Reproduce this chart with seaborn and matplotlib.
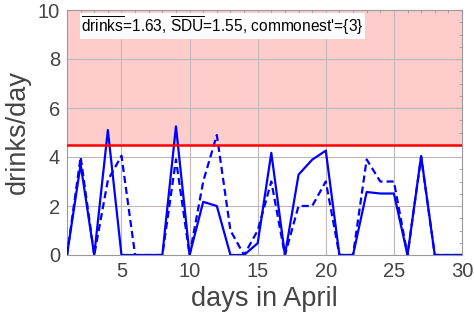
import numpy as np
import pandas as pd
import matplotlib
matplotlib.use("Agg")
import matplotlib.pyplot as plt
import seaborn as sns
from matplotlib.ticker import MultipleLocator

days = list(range(1, 31))
drinks = [0, 3.7, 0, 5.1, 0, 0, 0, 0, 5.25, 0, 2.17, 2.0, 0, 0, 0.48,
          4.17, 0, 3.28, 3.89, 4.26, 0, 0, 2.57, 2.51, 2.51, 0, 4.04, 0, 0, 0]
sdu = [0, 4.0, 0, 3.05, 4.05, 0, 0, 0, 3.9, 0, 3.0, 4.9, 1.0, 0, 1.0,
       3.0, 0, 2.0, 2.0, 3.0, 0, 0, 3.9, 3.0, 3.0, 0, 4.0, 0, 0, 0]
limit = 4.5
xticks = [5, 10, 15, 20, 25, 30]
yticks = [0, 2, 4, 6, 8, 10]
caption = r"$\overline{\mathrm{drinks}}$=1.63, $\overline{\mathrm{SDU}}$=1.55, commonest'={3}"

sns.set_style("white")
plt.rcParams['font.family'] = ['Liberation Sans', 'DejaVu Sans']
plt.rcParams['mathtext.fontset'] = 'custom'
plt.rcParams['mathtext.rm'] = 'Liberation Sans'

df = pd.DataFrame({"day": days, "drinks": drinks, "sdu": sdu})

fig = plt.figure(figsize=(4.74, 3.24), dpi=100)
ax = fig.add_axes([67/474, 69/324, 395/474, 245/324])

ax.axhspan(limit, 10, color="#FFCCCC", zorder=0, lw=0)
for x in xticks[:-1]:
    ax.axvline(x, color="#c0b8b8", lw=0.8, zorder=1)
for y in yticks[1:-1]:
    ax.axhline(y, color="#c0b8b8", lw=0.8, zorder=1)

sns.lineplot(data=df, x="day", y="sdu", ax=ax, color="#0000FF", lw=1.6,
             linestyle=(0, (3.2, 1.8)), zorder=3)
sns.lineplot(data=df, x="day", y="drinks", ax=ax, color="#0000FF", lw=1.6, zorder=4)
ax.axhline(limit, color="#FF0000", lw=1.8, zorder=5)

ax.set_xlim(1, 30)
ax.set_ylim(0, 10)
ax.set_xticks(xticks)
ax.set_yticks(yticks)
ax.xaxis.set_minor_locator(MultipleLocator(1))
ax.yaxis.set_minor_locator(MultipleLocator(0.5))
ax.tick_params(which="both", direction="in", top=True, right=True,
               color="#999999", labelcolor="#444444", labelsize=14.5)
ax.tick_params(which="major", length=4, width=0.8, pad=5)
ax.tick_params(which="minor", length=2.5, width=0.6)
for s in ax.spines.values():
    s.set_color("#999999")
    s.set_linewidth(0.8)

ax.set_xlabel("days in April", fontsize=19.5, color="#444444", labelpad=4)
ax.set_ylabel("drinks/day", fontsize=19.5, color="#444444", labelpad=5)

ax.text(2.05, 9.82, caption, fontsize=11.2, color="black", va="top", ha="left",
        bbox=dict(facecolor="white", edgecolor="none", pad=1.0), zorder=6)

fig.savefig("out.png", dpi=100)
